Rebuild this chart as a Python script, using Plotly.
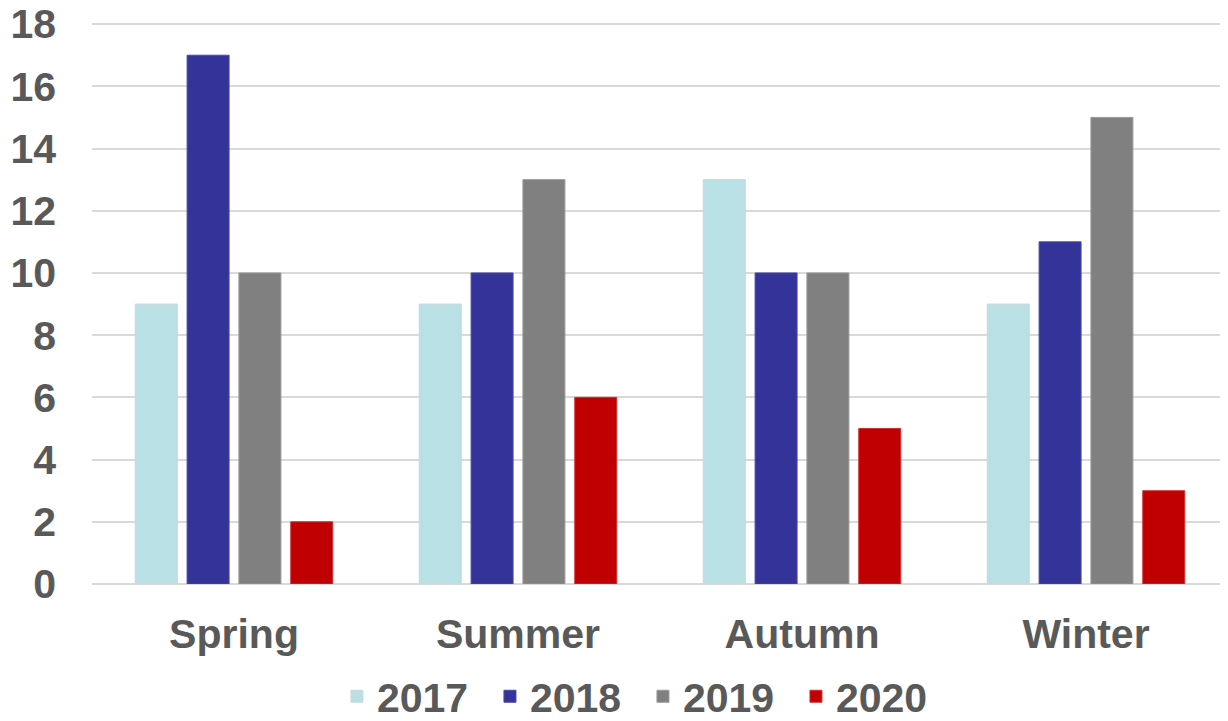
import plotly.graph_objects as go

seasons = ["Spring", "Summer", "Autumn", "Winter"]
years = ["2017", "2018", "2019", "2020"]
v2017 = [9, 9, 13, 9]
v2018 = [17, 10, 10, 11]
v2019 = [10, 13, 10, 15]
v2020 = [2, 6, 5, 3]
colors = ["#B9E0E4", "#333399", "#808080", "#C00000"]
borders = ["#C8D8DA", "#4A4AA8", "#999999", "#D03030"]
y_ticks = [0, 2, 4, 6, 8, 10, 12, 14, 16, 18]

series = [v2017, v2018, v2019, v2020]
fig = go.Figure()
for name, vals, c, b in zip(years, series, colors, borders):
    fig.add_trace(go.Bar(x=seasons, y=vals, name=name,
                         marker=dict(color=c, line=dict(color=b, width=1))))

txt = "#595959"
fam = "Liberation Sans, Arial, sans-serif"
fig.update_layout(
    width=1220, height=713,
    paper_bgcolor="white", plot_bgcolor="white",
    margin=dict(l=84, r=0, t=13, b=137, autoexpand=False),
    barmode="group", bargap=0.27, bargroupgap=0.19,
    font=dict(family=fam, color=txt, size=41, weight="bold"),
    showlegend=True,
    legend=dict(orientation="h", x=0.485, xanchor="center", y=-0.2, yanchor="middle",
                font=dict(size=41, color=txt, family=fam, weight="bold"),
                itemwidth=30, traceorder="normal",
                entrywidth=108, entrywidthmode="pixels"),
    xaxis=dict(showgrid=False, showline=False, ticks="", automargin=False,
               tickfont=dict(size=41, color=txt, family=fam, weight="bold"),
               ticklabelstandoff=22),
    yaxis=dict(range=[0, 18.1], tickmode="array", tickvals=y_ticks,
               showgrid=True, gridcolor="#D9D9D9", gridwidth=1.5,
               zeroline=True, zerolinecolor="#D9D9D9", zerolinewidth=1.5,
               showline=False, ticks="", automargin=False,
               ticklabeloverflow="allow",
               tickfont=dict(size=41, color=txt, family=fam, weight="bold"),
               ticklabelstandoff=35),
)
fig.write_html("out.html")
